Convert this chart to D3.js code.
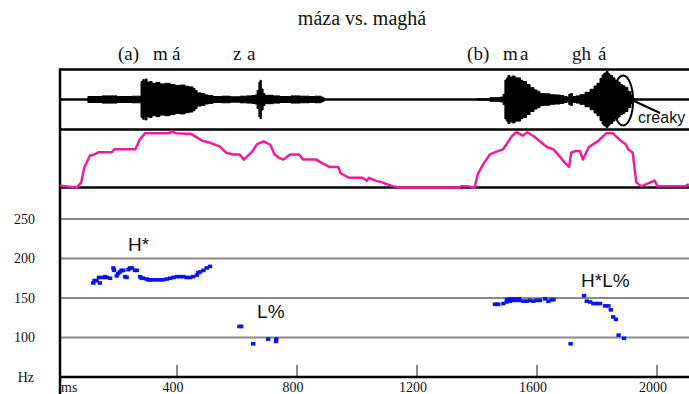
<!DOCTYPE html>
<html>
<head>
<meta charset="utf-8">
<script src="https://cdn.jsdelivr.net/npm/d3@7"></script>
<style>
  body { margin: 0; background: #fff; }
  svg { display: block; }
  .serif { font-family: "Liberation Serif", "Times New Roman", serif; fill: #111; }
  .sans { font-family: "Liberation Sans", Arial, sans-serif; fill: #111; }
</style>
</head>
<body>
<script>
const svgWidth = 689,
    svgHeight = 394,
    left = 60,
    right = 689;

// panel bands (pixels)
const waveTop = 69.5, waveBottom = 129.5, intBottom = 187.5, pitchBottom = 377;

// time axis
const xTicks = [400, 800, 1200, 1600, 2000];
// pitch axis
const yTicks = [250, 200, 150, 100];

// segment labels above the waveform: [text, ms]
const segments = [["(a)", 203], ["m", 320], ["á", 383], ["z", 587], ["a", 633],
    ["(b)", 1367], ["m", 1487], ["a", 1543], ["gh", 1717], ["á", 1803]];

// tone labels: [text, ms, Hz]
const tones = [["H*", 237, 209], ["L%", 667, 125], ["H*L%", 1747, 164]];

// waveform amplitude envelope [ms, amplitude 0..1]
const waveA = [[100,0.02],[103,0.1],[150,0.12],[200,0.1],[250,0.11],[277,0.1],[280,0.6],[286,0.66],[290,0.58],[293,0.68],
    [300,0.58],[308,0.6],[317,0.54],[330,0.57],[343,0.52],[360,0.54],[377,0.5],[393,0.47],[410,0.48],[427,0.44],[440,0.42],
    [453,0.37],[460,0.3],[467,0.22],[480,0.2],[493,0.15],[505,0.13],[520,0.1],[550,0.11],[577,0.09],[610,0.11],[633,0.12],
    [650,0.13],[660,0.15],[667,0.3],[673,0.58],[677,0.64],[681,0.35],[687,0.2],[693,0.14],[720,0.12],[743,0.1],[780,0.12],
    [810,0.11],[840,0.1],[860,0.11],[880,0.08],[887,0.05],[892,0]];
const waveB = [[1340,0],[1400,0.02],[1443,0.06],[1477,0.08],[1487,0.17],[1493,0.65],[1498,0.72],[1503,0.8],[1510,0.74],
    [1517,0.78],[1527,0.72],[1537,0.72],[1545,0.64],[1553,0.6],[1565,0.5],[1577,0.4],[1590,0.32],[1600,0.27],[1610,0.2],
    [1625,0.19],[1643,0.16],[1660,0.15],[1677,0.13],[1690,0.1],[1700,0.08],[1706,0.17],[1712,0.2],[1718,0.1],[1730,0.12],
    [1743,0.16],[1760,0.24],[1777,0.34],[1790,0.45],[1800,0.54],[1810,0.7],[1817,0.82],[1823,0.88],[1830,0.93],[1837,0.86],
    [1843,0.8],[1852,0.72],[1860,0.63],[1870,0.58],[1877,0.5],[1885,0.46],[1893,0.4],[1903,0.27],[1913,0.14],[1920,0.04],[1925,0]];

// intensity contour [ms, level 0..100]
const intensity = [[11,3],[66,0],[81,9],[91,35],[110,56],[125,58],[139,62],[183,62],[191,67],[261,67],[276,84],[293,95],
    [374,95],[381,99],[396,95],[447,94],[484,82],[513,78],[542,72],[564,61],[586,58],[608,58],[623,49],[652,64],[667,76],
    [689,81],[711,75],[725,58],[740,52],[755,49],[777,58],[806,58],[821,49],[864,49],[879,44],[908,36],[938,36],[945,25],
    [974,17],[1018,17],[1033,12],[1040,17],[1062,12],[1084,9],[1099,6],[1121,2],[1143,0],[1275,0],[1340,0],[1348,2],
    [1370,2],[1392,0],[1403,24],[1421,41],[1443,58],[1465,63],[1487,67],[1516,90],[1531,97],[1553,91],[1567,97],[1589,90],
    [1633,71],[1655,67],[1670,58],[1692,44],[1707,36],[1714,61],[1729,64],[1743,64],[1753,49],[1773,71],[1802,81],[1831,95],
    [1853,95],[1875,84],[1897,75],[1904,67],[1919,61],[1931,9],[1948,2],[1978,9],[1992,12],[2002,2],[2095,2],[2106,6]];

// F0 track [ms, Hz]
const pitch = [[121,169],[125,172],[132,172],[140,176],[143,169],[154,176],[160,177],[166,176],[177,175],[188,188],[190,185],
    [199,178],[204,181],[210,183],[215,185],[221,185],[227,177],[232,176],[238,186],[243,188],[249,188],[260,185],[266,185],
    [277,177],[282,175],[288,175],[299,174],[305,173],[310,173],[321,173],[332,173],[343,173],[354,173],[366,174],[377,175],
    [388,176],[399,177],[410,177],[421,177],[432,176],[443,176],[454,177],[466,179],[471,182],[477,183],[488,185],[499,188],
    [510,190],
    [608,114],[614,114],[654,92],[704,98],[730,95],[731,98],
    [1460,142],[1466,142],[1471,142],[1488,143],[1499,145],[1500,148],[1510,146],[1510,149],[1520,149],[1521,147],[1530,149],
    [1532,147],[1540,149],[1543,147],[1554,146],[1566,146],[1577,147],[1588,146],[1599,147],[1610,147],[1627,149],[1638,146],
    [1649,148],[1655,148],[1712,92],[1757,153],[1766,146],[1777,145],[1788,143],[1799,143],[1810,143],[1827,140],[1838,140],
    [1846,135],[1854,126],[1863,123],[1872,103],[1890,99]];

let svg = d3.select("body").append("svg")
    .attr("width", svgWidth)
    .attr("height", svgHeight);

let x = d3.scaleLinear().domain([0, 2100]).range([57, 687]);
let wy = d3.scaleLinear().domain([-1, 1]).range([waveBottom, waveTop]);
let iy = d3.scaleLinear().domain([0, 100]).range([intBottom, waveBottom + 1]);
let py = d3.scaleLinear().domain([50, 250]).range([pitchBottom, 219]);

// title and segment labels
svg.append("text").attr("class", "serif")
    .attr("x", 362).attr("y", 25)
    .attr("text-anchor", "middle")
    .style("font-size", "20px")
    .text("máza vs. maghá");

svg.selectAll(".seg")
    .data(segments)
    .join("text")
    .attr("class", "serif seg")
    .attr("x", d => x(d[1]))
    .attr("y", 60)
    .style("font-size", "19px")
    .text(d => d[0]);

// gridlines
svg.selectAll(".grid")
    .data(yTicks)
    .join("line")
    .attr("x1", left).attr("x2", right)
    .attr("y1", d => py(d)).attr("y2", d => py(d))
    .attr("stroke", "#8a8a8a")
    .attr("stroke-width", 2);

// tick marks on time axis
svg.selectAll(".xtick")
    .data(xTicks)
    .join("line")
    .attr("x1", d => x(d)).attr("x2", d => x(d))
    .attr("y1", pitchBottom - 12).attr("y2", pitchBottom)
    .attr("stroke", "#8a8a8a")
    .attr("stroke-width", 2);

// waveform (blocky envelope)
let area = d3.area()
    .curve(d3.curveStepAfter)
    .x(d => x(d[0]))
    .y0(d => wy(-d[1]))
    .y1(d => wy(d[1]));
[waveA, waveB].forEach(w => {
    svg.append("path")
        .attr("d", area(w))
        .attr("fill", "#000")
        .attr("stroke", "#000")
        .attr("stroke-width", 1);
});

// frame lines
[waveTop, wy(0), waveBottom, intBottom, pitchBottom].forEach(yy => {
    svg.append("line")
        .attr("x1", left).attr("x2", right)
        .attr("y1", yy).attr("y2", yy)
        .attr("stroke", "#000")
        .attr("stroke-width", 2.5);
});
svg.append("line")
    .attr("x1", left).attr("x2", left)
    .attr("y1", waveTop - 1.2).attr("y2", svgHeight)
    .attr("stroke", "#000")
    .attr("stroke-width", 2.5);

// creaky annotation
svg.append("ellipse")
    .attr("cx", x(1887)).attr("cy", wy(0) + 1)
    .attr("rx", 10).attr("ry", 25)
    .attr("fill", "none")
    .attr("stroke", "#000")
    .attr("stroke-width", 2);
svg.append("line")
    .attr("x1", x(1887) + 10).attr("y1", wy(0) + 1)
    .attr("x2", 660).attr("y2", 113)
    .attr("stroke", "#000")
    .attr("stroke-width", 2);
svg.append("text").attr("class", "sans")
    .attr("x", 638).attr("y", 123)
    .style("font-size", "16px")
    .text("creaky");

// intensity
svg.append("path")
    .datum(intensity)
    .attr("d", d3.line().x(d => x(d[0])).y(d => iy(d[1])))
    .attr("fill", "none")
    .attr("stroke", "#f01c9a")
    .attr("stroke-width", 2.5)
    .attr("stroke-linejoin", "round");

// pitch points
svg.selectAll(".f0")
    .data(pitch)
    .join("rect")
    .attr("x", d => x(d[0]) - 2.2)
    .attr("y", d => py(d[1]) - 1.8)
    .attr("width", 4.4)
    .attr("height", 3.6)
    .attr("fill", "#0a14f0");

// tone labels
svg.selectAll(".tone")
    .data(tones)
    .join("text")
    .attr("class", "sans tone")
    .attr("x", d => x(d[1]))
    .attr("y", d => py(d[2]))
    .style("font-size", "19px")
    .text(d => d[0]);

// axis labels
svg.selectAll(".ylab")
    .data(yTicks)
    .join("text")
    .attr("class", "serif")
    .attr("x", 35)
    .attr("y", d => py(d))
    .attr("dy", "0.35em")
    .attr("text-anchor", "end")
    .style("font-size", "14px")
    .text(d => d);
svg.append("text").attr("class", "serif")
    .attr("x", 34).attr("y", pitchBottom).attr("dy", "0.35em")
    .attr("text-anchor", "end")
    .style("font-size", "14px")
    .text("Hz");

svg.selectAll(".xlab")
    .data(xTicks)
    .join("text")
    .attr("class", "serif")
    .attr("x", d => x(d) - 4)
    .attr("y", 392)
    .attr("text-anchor", "middle")
    .style("font-size", "14px")
    .text(d => d);
svg.append("text").attr("class", "serif")
    .attr("x", 61).attr("y", 392)
    .style("font-size", "14px")
    .text("ms");
</script>
</body>
</html>
